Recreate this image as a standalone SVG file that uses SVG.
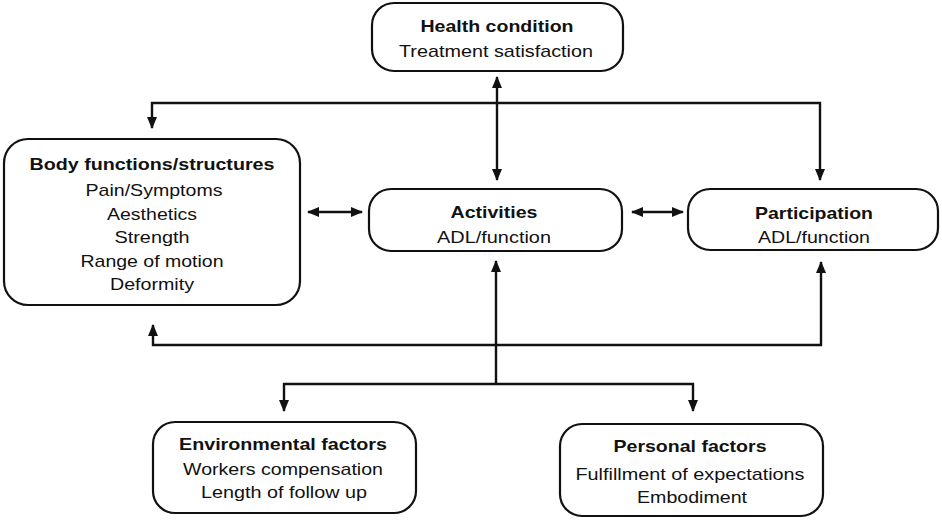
<svg xmlns="http://www.w3.org/2000/svg" width="942" height="521" viewBox="0 0 942 521">
<defs>
<marker id="ah" viewBox="0 0 12 10" refX="11" refY="5" markerWidth="12" markerHeight="10" markerUnits="userSpaceOnUse" orient="auto-start-reverse">
<path d="M0,0 L12,5 L0,10 z" fill="#111"/>
</marker>
<style>
.box{fill:#fff;stroke:#111;stroke-width:2.2}
.t{font-family:"Liberation Sans",Arial,sans-serif;font-size:17px;fill:#111;text-anchor:middle}
.b{font-weight:bold}
.c{fill:none;stroke:#111;stroke-width:2.4}
.a{marker-start:url(#ah);marker-end:url(#ah)}
.e{marker-end:url(#ah)}
</style>
</defs>
<rect width="942" height="521" fill="#fff"/>
<g id="connectors">
<line class="c a" x1="497" y1="77" x2="497" y2="180"/>
<polyline class="c a" points="152,128 152,103 820,103 820,180"/>
<line class="c a" x1="308" y1="212" x2="362" y2="212"/>
<line class="c a" x1="632" y1="212" x2="683" y2="212"/>
<polyline class="c a" points="153,325 153,345 821,345 821,262"/>
<line class="c e" x1="496" y1="384" x2="496" y2="261"/>
<polyline class="c a" points="284,411 284,384 693,384 693,411"/>
</g>
<g id="health">
<rect class="box" x="372" y="3" width="251" height="68" rx="22"/>
<text class="t b" x="497" y="32" textLength="153" lengthAdjust="spacingAndGlyphs">Health condition</text>
<text class="t" x="496" y="57" textLength="194" lengthAdjust="spacingAndGlyphs">Treatment satisfaction</text>
</g>
<g id="body">
<rect class="box" x="4" y="139" width="296" height="166" rx="24"/>
<text class="t b" x="152" y="170" textLength="245" lengthAdjust="spacingAndGlyphs">Body functions/structures</text>
<text class="t" x="154" y="196" textLength="137" lengthAdjust="spacingAndGlyphs">Pain/Symptoms</text>
<text class="t" x="152" y="220" textLength="90" lengthAdjust="spacingAndGlyphs">Aesthetics</text>
<text class="t" x="152" y="243" textLength="75" lengthAdjust="spacingAndGlyphs">Strength</text>
<text class="t" x="152" y="267" textLength="143" lengthAdjust="spacingAndGlyphs">Range of motion</text>
<text class="t" x="152" y="290" textLength="84" lengthAdjust="spacingAndGlyphs">Deformity</text>
</g>
<g id="activities">
<rect class="box" x="369" y="189" width="253" height="62" rx="22"/>
<text class="t b" x="494" y="218" textLength="87" lengthAdjust="spacingAndGlyphs">Activities</text>
<text class="t" x="494" y="243" textLength="114" lengthAdjust="spacingAndGlyphs">ADL/function</text>
</g>
<g id="participation">
<rect class="box" x="688" y="189" width="250" height="61" rx="22"/>
<text class="t b" x="814" y="219" textLength="118" lengthAdjust="spacingAndGlyphs">Participation</text>
<text class="t" x="814" y="243" textLength="112" lengthAdjust="spacingAndGlyphs">ADL/function</text>
</g>
<g id="environmental">
<rect class="box" x="153" y="422" width="263" height="91" rx="22"/>
<text class="t b" x="283" y="450" textLength="208" lengthAdjust="spacingAndGlyphs">Environmental factors</text>
<text class="t" x="283" y="475" textLength="200" lengthAdjust="spacingAndGlyphs">Workers compensation</text>
<text class="t" x="284" y="498" textLength="166" lengthAdjust="spacingAndGlyphs">Length of follow up</text>
</g>
<g id="personal">
<rect class="box" x="560" y="424" width="263" height="92" rx="22"/>
<text class="t b" x="690" y="452" textLength="153" lengthAdjust="spacingAndGlyphs">Personal factors</text>
<text class="t" x="690" y="480" textLength="229" lengthAdjust="spacingAndGlyphs">Fulfillment of expectations</text>
<text class="t" x="692" y="503" textLength="110" lengthAdjust="spacingAndGlyphs">Embodiment</text>
</g>
</svg>
